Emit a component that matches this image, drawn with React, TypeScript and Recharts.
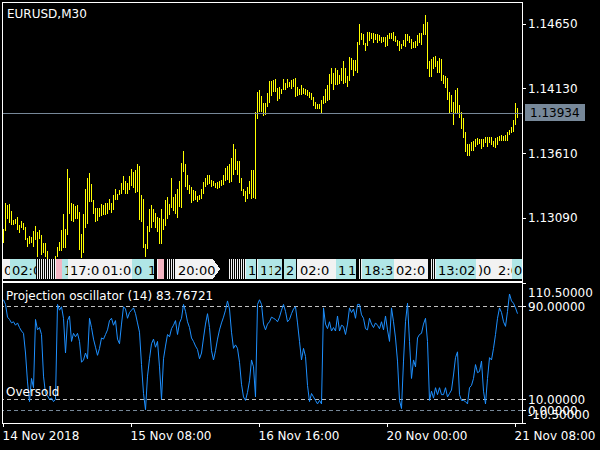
import React from 'react';
import { ComposedChart, Bar, Line, XAxis, YAxis, ReferenceLine } from 'recharts';

const FONT = '"DejaVu Sans", Verdana, sans-serif';

// EURUSD M30 bars (high / low per bar)
const high = [
  1.13002, 1.13211, 1.13195, 1.13203, 1.13146, 1.13074, 1.13082, 1.13098, 1.13034, 1.13066,
  1.13050, 1.13018, 1.12929, 1.12946, 1.12938, 1.12986, 1.13026, 1.12978, 1.12994, 1.12954,
  1.12889, 1.12889, 1.12825, 1.12760, 1.12744, 1.12728, 1.12785, 1.12857, 1.12897, 1.12994,
  1.13122, 1.13002, 1.13484, 1.13412, 1.13211, 1.13203, 1.13187, 1.13195, 1.13138, 1.12962,
  1.13122, 1.13323, 1.13412, 1.13452, 1.13364, 1.13235, 1.13171, 1.13171, 1.13171, 1.13203,
  1.13195, 1.13211, 1.13211, 1.13243, 1.13211, 1.13275, 1.13323, 1.13283, 1.13315, 1.13372,
  1.13428, 1.13388, 1.13372, 1.13428, 1.13484, 1.13460, 1.13476, 1.13525, 1.13509, 1.13275,
  1.13243, 1.12881, 1.13026, 1.13162, 1.13195, 1.13162, 1.13130, 1.13098, 1.13090, 1.13162,
  1.13082, 1.13235, 1.13259, 1.13203, 1.13412, 1.13259, 1.13283, 1.13323, 1.13388, 1.13533,
  1.13629, 1.13525, 1.13436, 1.13356, 1.13339, 1.13315, 1.13307, 1.13267, 1.13275, 1.13323,
  1.13380, 1.13412, 1.13436, 1.13436, 1.13396, 1.13388, 1.13372, 1.13380, 1.13388, 1.13396,
  1.13436, 1.13492, 1.13509, 1.13525, 1.13573, 1.13685, 1.13645, 1.13549, 1.13549, 1.13412,
  1.13323, 1.13307, 1.13339, 1.13388, 1.13476, 1.13476, 1.13942, 1.14103, 1.14119, 1.14071,
  1.14015, 1.14015, 1.14095, 1.14192, 1.14192, 1.14200, 1.14208, 1.14136, 1.14144, 1.14127,
  1.14208, 1.14176, 1.14208, 1.14184, 1.14200, 1.14208, 1.14216, 1.14144, 1.14127, 1.14160,
  1.14136, 1.14127, 1.14119, 1.14103, 1.14095, 1.14063, 1.14023, 1.14007, 1.14007, 1.14039,
  1.14071, 1.14127, 1.14160, 1.14248, 1.14296, 1.14256, 1.14296, 1.14280, 1.14240, 1.14296,
  1.14353, 1.14296, 1.14232, 1.14385, 1.14377, 1.14361, 1.14361, 1.14505, 1.14650, 1.14578,
  1.14570, 1.14497, 1.14586, 1.14586, 1.14578, 1.14578, 1.14570, 1.14570, 1.14562, 1.14545,
  1.14545, 1.14545, 1.14562, 1.14578, 1.14578, 1.14586, 1.14554, 1.14521, 1.14513, 1.14489,
  1.14521, 1.14570, 1.14570, 1.14554, 1.14529, 1.14505, 1.14513, 1.14562, 1.14578, 1.14578,
  1.14650, 1.14722, 1.14666, 1.14353, 1.14369, 1.14385, 1.14393, 1.14353, 1.14377, 1.14369,
  1.14240, 1.14232, 1.14216, 1.14103, 1.14079, 1.14023, 1.14119, 1.14136, 1.13999, 1.13942,
  1.13894, 1.13781, 1.13685, 1.13685, 1.13701, 1.13709, 1.13725, 1.13733, 1.13725, 1.13725,
  1.13725, 1.13741, 1.13741, 1.13741, 1.13741, 1.13709, 1.13733, 1.13741, 1.13749, 1.13757,
  1.13749, 1.13757, 1.13781, 1.13798, 1.13822, 1.13878, 1.14015, 1.13975,
];

const low = [
  1.12889, 1.12986, 1.13082, 1.13050, 1.13034, 1.13034, 1.13042, 1.12994, 1.12970, 1.13010,
  1.12994, 1.12913, 1.12857, 1.12881, 1.12889, 1.12857, 1.12913, 1.12776, 1.12921, 1.12793,
  1.12809, 1.12776, 1.12736, 1.12688, 1.12656, 1.12672, 1.12704, 1.12776, 1.12825, 1.12825,
  1.12849, 1.12849, 1.12954, 1.13122, 1.13066, 1.13058, 1.13082, 1.13082, 1.12833, 1.12768,
  1.12809, 1.13010, 1.13042, 1.13219, 1.13219, 1.13122, 1.13058, 1.13066, 1.13098, 1.13106,
  1.13114, 1.13114, 1.13122, 1.13154, 1.13130, 1.13154, 1.13235, 1.13235, 1.13275, 1.13283,
  1.13315, 1.13283, 1.13283, 1.13315, 1.13347, 1.13331, 1.13291, 1.13299, 1.13074, 1.13058,
  1.12849, 1.12776, 1.12841, 1.12978, 1.13010, 1.13058, 1.13010, 1.12978, 1.12881, 1.12881,
  1.12994, 1.13026, 1.13082, 1.13114, 1.13171, 1.13146, 1.13122, 1.13090, 1.13179, 1.13171,
  1.13460, 1.13339, 1.13315, 1.13283, 1.13211, 1.13227, 1.13235, 1.13219, 1.13235, 1.13243,
  1.13283, 1.13339, 1.13356, 1.13364, 1.13339, 1.13347, 1.13331, 1.13323, 1.13331, 1.13347,
  1.13356, 1.13388, 1.13396, 1.13372, 1.13380, 1.13436, 1.13476, 1.13436, 1.13372, 1.13307,
  1.13267, 1.13219, 1.13243, 1.13283, 1.13243, 1.13251, 1.13243, 1.13886, 1.13942, 1.13942,
  1.13910, 1.13918, 1.13983, 1.14015, 1.14071, 1.14103, 1.14103, 1.14031, 1.14047, 1.14087,
  1.14119, 1.14119, 1.14136, 1.14144, 1.14127, 1.14144, 1.14063, 1.14071, 1.14079, 1.14079,
  1.14087, 1.14079, 1.14071, 1.14055, 1.14039, 1.13991, 1.13966, 1.13966, 1.13966, 1.13934,
  1.14007, 1.14015, 1.14031, 1.14039, 1.14168, 1.14119, 1.14160, 1.14160, 1.14168, 1.14192,
  1.14168, 1.14176, 1.14144, 1.14192, 1.14280, 1.14232, 1.14272, 1.14256, 1.14481, 1.14521,
  1.14481, 1.14433, 1.14473, 1.14513, 1.14529, 1.14497, 1.14521, 1.14497, 1.14513, 1.14497,
  1.14505, 1.14465, 1.14473, 1.14529, 1.14529, 1.14513, 1.14505, 1.14473, 1.14433, 1.14449,
  1.14473, 1.14465, 1.14513, 1.14497, 1.14449, 1.14457, 1.14457, 1.14473, 1.14497, 1.14481,
  1.14562, 1.14562, 1.14288, 1.14224, 1.14224, 1.14288, 1.14304, 1.14256, 1.14256, 1.14192,
  1.14168, 1.14136, 1.14039, 1.13926, 1.13942, 1.13837, 1.13934, 1.13934, 1.13894, 1.13806,
  1.13733, 1.13621, 1.13589, 1.13589, 1.13629, 1.13629, 1.13661, 1.13677, 1.13685, 1.13645,
  1.13661, 1.13693, 1.13661, 1.13693, 1.13677, 1.13661, 1.13653, 1.13677, 1.13709, 1.13709,
  1.13709, 1.13709, 1.13709, 1.13757, 1.13773, 1.13781, 1.13837, 1.13894,
];

// Projection oscillator (14)
const proj = [
  96, 92, 81, 79, 76, 77, 74, 76, 72, 69,
  67, 50, 25, 8, 28, 20, 79, 70, 72, 66,
  30, 15, 13, 10, 11, 8, 10, 92, 87, 90,
  80, 50, 78, 82, 60, 67, 64, 67, 60, 42,
  44, 50, 45, 80, 72, 62, 55, 48, 54, 63,
  62, 66, 70, 78, 80, 74, 78, 62, 58, 75,
  90, 88, 80, 85, 87, 89, 84, 76, 68, 40,
  15, 1, 30, 45, 58, 62, 55, 60, 38, 10,
  45, 56, 66, 64, 71, 74, 78, 66, 76, 80,
  92, 86, 77, 72, 63, 60, 56, 53, 45, 50,
  63, 75, 84, 72, 52, 44, 52, 62, 70, 76,
  81, 87, 95, 88, 68, 54, 57, 54, 42, 23,
  12, 9, 16, 26, 44, 38, 12, 92, 96, 92,
  75, 70, 75, 77, 81, 80, 79, 77, 81, 87,
  92, 86, 77, 79, 84, 88, 90, 76, 60, 44,
  54, 47, 22, 8, 15, 12, 9, 6, 9, 6,
  89, 75, 71, 77, 69, 72, 69, 82, 69, 74,
  73, 66, 75, 89, 85, 88, 80, 92, 92, 83,
  80, 71, 70, 80, 75, 72, 76, 74, 71, 77,
  70, 82, 70, 60, 89, 77, 63, 43, 9, 2,
  43, 77, 93, 60, 28, 44, 38, 63, 66, 67,
  75, 80, 60, 9, 17, 11, 20, 14, 20, 14,
  14, 20, 12, 15, 18, 31, 46, 51, 14, 9,
  9, 8, 6, 20, 22, 28, 40, 33, 34, 43,
  17, 6, 28, 46, 44, 54, 66, 80, 89, 85,
  77, 73, 86, 101, 95, 93, 89, 84,
];

const timeTicks = [0, 64, 128, 192, 256];
const timeLabels = ['14 Nov 2018', '15 Nov 08:00', '16 Nov 16:00', '20 Nov 00:00', '21 Nov 08:00'];
const priceTicks = [1.1309, 1.1361, 1.1413, 1.1465];
const lastPrice = 1.13934;
const oscTicks = [110.5, 90, 10, 0, -10.5];
const oscLevels = [90, 10];
const oscValue = 83.76721;

// session labels on the bottom strip of the price window: [fromBar, toBar, kind, text]
const sessions: [number, number, string, string][] = [
  [0, 3, 'w', '0'], [4, 16, 'c', '02:0'], [27, 29, 'p', ''], [30, 32, 'c', '1'],
  [33, 48, 'w', '17:0'], [49, 64, 'w', '01:0'], [65, 71, 'c', '0'], [72, 75, 'c', '1'],
  [78, 80, 'p', ''], [87, 108, 'a', '20:00'], [122, 126, 'c', '1'], [128, 131, 'c', '1'],
  [132, 134, 'c', '1'], [135, 139, 'c', '2'], [141, 146, 'c', '2'], [148, 166, 'w', '02:0'],
  [167, 171, 'c', '1'], [172, 176, 'c', '1'], [180, 195, 'c', '18:3'], [196, 212, 'w', '02:0'],
  [217, 236, 'c', '13:02'], [237, 246, 'w', ')0'], [247, 254, 'w', '2:0'], [255, 259, 'c', '0'],
];
const sessionMarks = [17, 18, 19, 20, 21, 22, 23, 24, 25, 26, 77, 82, 83, 84, 85, 86,
  113, 114, 115, 116, 117, 118, 119, 120, 121, 127, 147, 178, 179, 214, 215, 216];

const data = high.map((h, i) => ({ i, range: [low[i], h], proj: proj[i] }));

const kindFill: Record<string, string> = { w: '#f2f2f2', a: '#f2f2f2', c: '#b0e6e6', p: '#f4b4c2' };
const barX = (i: number) => 3 + 2 * i;

// high-low bar as a 1px yellow stroke
const drawBar = (props: any) => {
  const { x, y, width, height } = props;
  if (x == null || y == null) return <g />;
  const top = Math.round(height < 0 ? y + height : y);
  const bottom = top + Math.max(1, Math.round(Math.abs(height)));
  const cx = Math.floor(x + width / 2) + 0.5;
  return <path d={`M${cx},${top}V${bottom}`} stroke="#ffff00" strokeWidth={1} fill="none" shapeRendering="crispEdges" />;
};

const PriceTag = (props: any) => {
  const { viewBox } = props;
  if (!viewBox) return null;
  const x = viewBox.x + viewBox.width + 3;
  const y = Math.round(viewBox.y);
  return (
    <g>
      <rect x={x} y={y - 9} width={60} height={17} fill="#778899" />
      <text x={x + 5} y={y + 4} fontSize={12} fontFamily={FONT} fill="#000">{lastPrice.toFixed(5)}</text>
    </g>
  );
};

const TimeTick = (props: any) => {
  const { x, y, payload } = props;
  return (
    <text x={x - 1} y={y + 11} fontSize={12} fontFamily={FONT} fill="#fff" textAnchor="start">
      {timeLabels[timeTicks.indexOf(payload.value)]}
    </text>
  );
};

const OscTick = (props: any) => {
  const { x, y, payload } = props;
  const shift = payload.value === 110.5 ? 9.5 : payload.value === -10.5 ? -8 : 0;
  return (
    <text x={x} y={y + shift + 4.3} fontSize={12} fontFamily={FONT} fill="#fff" textAnchor="start">
      {payload.value.toFixed(5)}
    </text>
  );
};

export default function App() {
  const xDomain = [-0.75, 259.25];
  return (
    <div style={{ position: 'absolute', left: 0, top: 0, width: 600, height: 450, background: '#000', overflow: 'hidden' }}>
      <div style={{ position: 'absolute', left: 0, top: 0 }}>
        <ComposedChart width={600} height={282} data={data} margin={{ top: 2, right: 0, bottom: 1, left: 2 }}>
          <XAxis type="number" dataKey="i" domain={xDomain} hide allowDataOverflow />
          <YAxis
            orientation="right"
            width={78}
            domain={[1.125835, 1.14827]}
            ticks={priceTicks}
            interval={0}
            allowDataOverflow
            axisLine={false}
            tickSize={4}
            tickMargin={2}
            tickLine={{ stroke: '#fff', shapeRendering: 'crispEdges' }}
            tick={{ fill: '#fff', fontSize: 12, fontFamily: FONT }}
            tickFormatter={(v: number) => v.toFixed(5)}
          />
          <ReferenceLine y={lastPrice} stroke="#778899" shapeRendering="crispEdges" label={<PriceTag />} />
          <Bar dataKey="range" barSize={1} fill="#ffff00" shape={drawBar} isAnimationActive={false} />
        </ComposedChart>
      </div>
      <div style={{ position: 'absolute', left: 0, top: 282 }}>
        <ComposedChart width={600} height={168} data={data} margin={{ top: 1, right: 0, bottom: 0, left: 2 }}>
          <XAxis
            type="number"
            dataKey="i"
            domain={xDomain}
            allowDataOverflow
            ticks={timeTicks}
            interval={0}
            height={27}
            axisLine={false}
            tickSize={4}
            tickMargin={2}
            tickLine={{ stroke: '#fff', shapeRendering: 'crispEdges' }}
            tick={<TimeTick />}
          />
          <YAxis
            orientation="right"
            width={78}
            domain={[-10.5, 110.5]}
            ticks={oscTicks}
            interval={0}
            allowDataOverflow
            axisLine={false}
            tickSize={4}
            tickMargin={2}
            tickLine={{ stroke: '#fff', shapeRendering: 'crispEdges' }}
            tick={<OscTick />}
          />
          {oscLevels.map((lv) => (
            <ReferenceLine key={lv} y={lv} stroke="#c0c0c0" strokeDasharray="4 3" shapeRendering="crispEdges" />
          ))}
          <ReferenceLine y={0} stroke="#778899" strokeDasharray="4 3" shapeRendering="crispEdges" />
          <Line type="linear" dataKey="proj" stroke="#1e90ff" strokeWidth={1} dot={false} isAnimationActive={false} />
        </ComposedChart>
      </div>
      <svg width={600} height={450} style={{ position: 'absolute', left: 0, top: 0, pointerEvents: 'none' }}>
        <g shapeRendering="crispEdges">
          {sessions.map(([a, b, k, t], n) => {
            const x0 = barX(a) - 1;
            const w = barX(b) - barX(a) + 2;
            return (
              <svg key={n} x={x0} y={259} width={w} height={20} overflow="hidden">
                {k === 'a' ? (
                  <polygon points={`0,0 ${w - 7},0 ${w},10 ${w - 7},20 0,20`} fill={kindFill[k]} />
                ) : (
                  <rect x={0} y={0} width={w} height={20} fill={kindFill[k]} />
                )}
                <text x={2} y={16} fontSize={13} fontFamily={FONT} fill="#000">{t}</text>
              </svg>
            );
          })}
          {sessionMarks.map((i) => (
            <rect key={i} x={barX(i)} y={259} width={1} height={20} fill="#f2f2f2" />
          ))}
          <line x1={2.5} y1={2} x2={2.5} y2={282} stroke="#fff" />
          <line x1={2} y1={2.5} x2={523} y2={2.5} stroke="#fff" />
          <line x1={522.5} y1={2} x2={522.5} y2={282} stroke="#fff" />
          <line x1={2} y1={281.5} x2={523} y2={281.5} stroke="#fff" />
          <line x1={2} y1={282.5} x2={523} y2={282.5} stroke="#fff" />
          <line x1={2.5} y1={282} x2={2.5} y2={424} stroke="#fff" />
          <line x1={522.5} y1={282} x2={522.5} y2={424} stroke="#fff" />
          <line x1={2} y1={423.5} x2={523} y2={423.5} stroke="#fff" />
        </g>
        <g fontFamily={FONT} fontSize={12} fill="#fff">
          <text x={7} y={18}>EURUSD,M30</text>
          <text x={6} y={300}>{`Projection oscillator (14) ${oscValue.toFixed(5)}`}</text>
          <text x={6} y={396}>Oversold</text>
        </g>
      </svg>
    </div>
  );
}
